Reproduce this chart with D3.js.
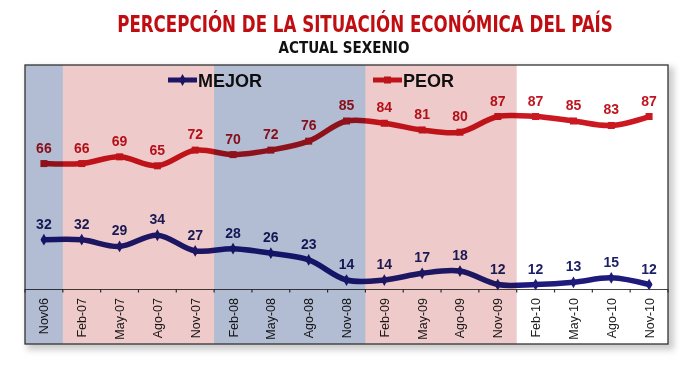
<!DOCTYPE html>
<html><head><meta charset="utf-8">
<script src="https://cdn.jsdelivr.net/npm/d3@7"></script>
<style>
html,body{margin:0;padding:0;background:#fff;}
svg{display:block;}
</style></head>
<body>
<svg id="chart" width="700" height="373"></svg>
<script>
const categories = ["Nov06","Feb-07","May-07","Ago-07","Nov-07","Feb-08","May-08","Ago-08","Nov-08","Feb-09","May-09","Ago-09","Nov-09","Feb-10","May-10","Ago-10","Nov-10"];
const mejor = [32,32,29,34,27,28,26,23,14,14,17,18,12,12,13,15,12];
const peor  = [66,66,69,65,72,70,72,76,85,84,81,80,87,87,85,83,87];
const seriesNames = ["MEJOR","PEOR"];
const periods = [["Nov06","Nov06","blue"],["Feb-07","Nov-07","pink"],["Feb-08","Nov-08","blue"],["Feb-09","Nov-09","pink"]];
const title = "PERCEPCIÓN DE LA SITUACIÓN ECONÓMICA DEL PAÍS";
const subtitle = "ACTUAL SEXENIO";

const svg = d3.select("#chart");
const L = 25, R = 668, T = 65, AX = 289, B = 344;
const x = d3.scaleBand().domain(categories).range([L, R]).padding(0);
const y = d3.scaleLinear().domain([10, 110]).range([AX, T]);
const cx = c => x(c) + x.bandwidth() / 2;

const colors = {MEJOR: "#1e1b7c", PEOR: "#cc1820"};
const labelColors = {MEJOR: "#1c1f66", PEOR: "#c0141f"};
const bandColors = {blue: "#b2bcd2", pink: "#efcaca"};

const defs = svg.append("defs");
const f = defs.append("filter").attr("id","sh").attr("x","-10%").attr("y","-10%").attr("width","130%").attr("height","130%");
f.append("feGaussianBlur").attr("stdDeviation", 3);

// titles: fit to measured widths with a horizontal scale
function fitText(txt, cxp, base, size, width, color) {
  const g = svg.append("g");
  const t = g.append("text").attr("x", 0).attr("y", 0).attr("text-anchor","middle")
    .attr("font-family","'DejaVu Sans Condensed','DejaVu Sans',sans-serif").attr("font-weight","bold")
    .attr("font-size", size).attr("fill", color).text(txt);
  const w = t.node().getComputedTextLength();
  g.attr("transform", `translate(${cxp},${base}) scale(${width / w},1)`);
}
fitText(title, 365, 32, 23, 496, "#c00d12");
fitText(subtitle, 344, 53, 15, 131, "#111");

svg.append("rect").attr("x", L+2).attr("y", T+2).attr("width", R-L+4).attr("height", B-T+4)
  .attr("fill","#cccccc").attr("filter","url(#sh)");
svg.append("rect").attr("x", L).attr("y", T).attr("width", R-L).attr("height", B-T).attr("fill","#fff");

const plot = svg.append("g");

const line = d3.line().x(d => cx(d[0])).y(d => y(d[1])).curve(d3.curveCatmullRom.alpha(0.5));
const series = [["MEJOR", mejor], ["PEOR", peor]];
series.forEach(([name, vals]) => {
  const pts = categories.map((c,i) => [c, vals[i]]);
  plot.append("path").datum(pts).attr("d", line).attr("fill","none")
    .attr("stroke", colors[name]).attr("stroke-width", 5.5).attr("stroke-linecap","round");
  if (name === "PEOR") {
    plot.selectAll(null).data(pts).join("rect")
      .attr("x", d => cx(d[0]) - 3.5).attr("y", d => y(d[1]) - 3.5)
      .attr("width", 7).attr("height", 7).attr("fill", colors[name]);
  } else {
    plot.selectAll(null).data(pts).join("path")
      .attr("d", d3.symbol(d3.symbolDiamond, 40))
      .attr("transform", d => `translate(${cx(d[0])},${y(d[1])})`).attr("fill", colors[name]);
  }
  plot.selectAll(null).data(pts).join("text")
    .attr("x", d => cx(d[0])).attr("y", d => y(d[1]) - 11)
    .attr("text-anchor","middle").attr("font-family","'Liberation Sans',Arial,sans-serif")
    .attr("font-weight","bold").attr("font-size", 14).attr("fill", labelColors[name])
    .text(d => d[1]);
});

const legendPos = {MEJOR: 168, PEOR: 373};
seriesNames.forEach(name => {
  const lx = legendPos[name];
  plot.append("line").attr("x1", lx).attr("x2", lx + 29).attr("y1", 80).attr("y2", 80)
    .attr("stroke", colors[name]).attr("stroke-width", 5);
  if (name === "PEOR") {
    plot.append("rect").attr("x", lx + 11).attr("y", 76.5).attr("width", 7).attr("height", 7).attr("fill", colors[name]);
  } else {
    plot.append("path").attr("d", d3.symbol(d3.symbolDiamond, 40)).attr("transform", `translate(${lx+14.5},80)`).attr("fill", colors[name]);
  }
  plot.append("text").attr("x", lx + 30).attr("y", 86.5)
    .attr("font-family","'Liberation Sans',Arial,sans-serif").attr("font-weight","bold")
    .attr("font-size", 18).attr("fill","#111").text(name);
});

const xAxis = d3.axisBottom(x).tickSize(0).tickFormat("");
const ax = plot.append("g").attr("transform", `translate(0,${AX})`).call(xAxis);
ax.select(".domain").attr("stroke","#444").attr("stroke-width",1.2);
const bounds = categories.map(c => x(c)).concat([R]);
plot.selectAll(null).data(bounds).join("line")
  .attr("x1", d => d).attr("x2", d => d).attr("y1", AX).attr("y2", AX + 3.5)
  .attr("stroke","#333").attr("stroke-width",1.2);
plot.selectAll(null).data(categories).join("text")
  .attr("transform", c => `translate(${cx(c) + 4.5},${AX + 9}) rotate(-90)`)
  .attr("text-anchor","end").attr("font-family","'Liberation Sans',Arial,sans-serif")
  .attr("font-size", 12.5).attr("fill","#1a1a1a").text(c => c);

periods.forEach(([a, b, t]) => {
  svg.append("rect").attr("x", x(a)).attr("y", T).attr("width", x(b) + x.bandwidth() - x(a)).attr("height", B - T)
    .attr("fill", bandColors[t]).style("mix-blend-mode","multiply");
});

svg.append("rect").attr("x", L).attr("y", T).attr("width", R-L).attr("height", B-T)
  .attr("fill","none").attr("stroke","#333").attr("stroke-width",1.3);
</script>
</body></html>
